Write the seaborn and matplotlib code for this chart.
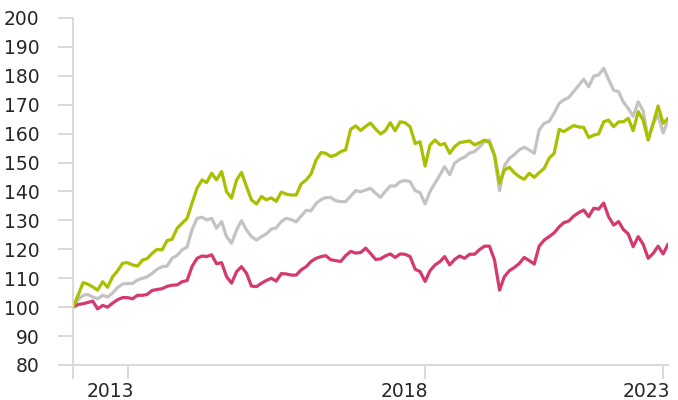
import matplotlib
matplotlib.use("Agg")
import matplotlib.pyplot as plt
import numpy as np
import pandas as pd
import seaborn as sns

# ---- data (monthly index levels, start = 100) ----
dates = pd.date_range("2012-12-01", periods=121, freq="MS")

green = [
    100, 104.1, 108.5, 108.0, 107.0, 105.9, 108.8, 106.9, 110.5, 112.6,
    115.2, 115.4, 114.6, 114.2, 116.3, 116.8, 118.6, 120.0, 119.8, 123.0,
    123.5, 127.3, 129.0, 130.7, 135.9, 141.1, 144.0, 143.1, 146.3, 144.0,
    146.9, 140.0, 137.7, 144.0, 146.6, 141.7, 137.1, 135.7, 138.3, 137.1,
    137.8, 136.6, 139.8, 139.1, 138.8, 138.8, 142.6, 144.0, 146.1, 150.9,
    153.5, 153.2, 152.1, 152.6, 153.8, 154.4, 161.5, 162.7, 161.1, 162.5,
    163.7, 161.6, 159.9, 161.0, 163.8, 161.0, 164.1, 163.8, 162.4, 156.6,
    157.2, 148.8, 156.1, 157.8, 156.1, 156.6, 153.2, 155.5, 156.9, 157.2,
    157.5, 156.1, 156.9, 157.8, 156.9, 152.6, 142.8, 147.4, 148.4, 146.5,
    145.1, 144.2, 146.3, 144.9, 146.5, 148.0, 151.5, 153.2, 161.5, 160.7,
    161.8, 162.8, 162.3, 162.2, 158.7, 159.5, 159.9, 164.1, 164.7, 162.4,
    164.1, 164.1, 165.3, 161.0, 167.6, 164.7, 157.8, 163.6, 169.6, 163.6,
    165.3,
]

gray = [
    100, 102.6, 104.1, 104.4, 103.5, 102.9, 104.1, 103.5, 104.9, 106.8,
    108.0, 108.2, 108.2, 109.4, 110.0, 110.5, 111.7, 113.1, 114.0, 114.2,
    116.9, 117.9, 119.8, 120.8, 126.7, 130.7, 131.1, 130.2, 130.7, 127.3,
    129.6, 124.4, 122.1, 126.7, 129.9, 126.7, 124.4, 123.2, 124.4, 125.3,
    127.0, 127.4, 129.6, 130.7, 130.3, 129.5, 131.5, 133.5, 133.3, 135.9,
    137.2, 137.9, 137.9, 136.8, 136.5, 136.5, 138.4, 140.3, 139.9, 140.5,
    141.1, 139.4, 138.0, 140.0, 141.9, 141.9, 143.4, 143.8, 143.4, 140.3,
    139.6, 135.7, 140.0, 142.9, 145.8, 148.6, 145.8, 149.8, 151.1, 151.9,
    153.3, 153.8, 155.4, 157.2, 157.8, 152.1, 140.3, 148.8, 151.5, 152.7,
    154.4, 155.3, 154.4, 153.2, 161.3, 163.6, 164.2, 167.1, 170.5, 171.7,
    172.5, 174.6, 176.7, 178.8, 176.2, 179.9, 180.3, 182.6, 178.8, 175.0,
    174.5, 171.0, 168.7, 166.0, 171.0, 167.9, 158.0, 163.6, 166.4, 160.2,
    164.7,
]

magenta = [
    100, 100.9, 101.2, 101.6, 102.1, 99.4, 100.6, 100.0, 101.4, 102.6,
    103.3, 103.3, 102.9, 104.1, 104.1, 104.4, 105.8, 106.1, 106.4, 107.2,
    107.6, 107.7, 108.8, 109.2, 114.0, 116.9, 117.7, 117.5, 118.1, 115.0,
    115.4, 110.6, 108.3, 112.3, 114.0, 111.7, 107.3, 107.1, 108.3, 109.2,
    110.0, 109.0, 111.6, 111.5, 111.1, 111.1, 112.9, 114.0, 115.8, 116.9,
    117.5, 117.8, 116.4, 116.1, 115.8, 117.8, 119.3, 118.7, 118.9, 120.4,
    118.6, 116.5, 116.7, 117.7, 118.4, 117.2, 118.4, 118.3, 117.5, 113.1,
    112.3, 108.9, 112.6, 114.6, 115.8, 117.5, 114.6, 116.5, 117.7, 116.9,
    118.3, 118.3, 119.9, 121.1, 121.1, 116.3, 105.9, 110.5, 112.6, 113.7,
    115.1, 117.2, 116.1, 114.9, 121.1, 123.2, 124.4, 125.7, 127.8, 129.2,
    129.8, 131.5, 132.7, 133.6, 131.3, 134.2, 133.9, 136.0, 131.3, 128.4,
    129.6, 126.9, 125.3, 120.9, 124.4, 121.8, 116.9, 118.6, 121.1, 118.4,
    121.8,
]

series_names = ["Index B", "Index C", "Index A"]
series_values = [gray, magenta, green]
series_colors = ["#c3c3c3", "#d4396f", "#a9bf00"]

y_ticks = [80, 90, 100, 110, 120, 130, 140, 150, 160, 170, 180, 190, 200]
x_tick_dates = ["2012-12-01", "2013-11-01", "2018-11-01", "2022-11-01"]
x_label_dates = ["2013-07-20", "2018-06-27", "2022-07-22"]
x_labels = ["2013", "2018", "2023"]

# ---- build long table ----
frames = []
for name, vals in zip(series_names, series_values):
    frames.append(pd.DataFrame({"date": dates, "value": vals, "series": name}))
df = pd.concat(frames, ignore_index=True)

sns.set_theme(style="white")
plt.rcParams["font.family"] = ["Liberation Sans Narrow", "DejaVu Sans"]

fig = plt.figure(figsize=(6.78, 4.0), dpi=100)
ax = fig.add_axes([0.1077, 0.0875, 0.8776, 0.8675])

sns.lineplot(
    data=df, x="date", y="value", hue="series",
    hue_order=series_names, palette=dict(zip(series_names, series_colors)),
    linewidth=2.3, legend=False, ax=ax,
)

grid_col = "#d9d9d9"
text_col = "#262626"

ax.set_xlim(dates[0], dates[-1])
ax.set_ylim(80, 200)
ax.set_yticks(y_ticks)
ax.set_yticklabels([str(t) for t in y_ticks])
ax.tick_params(axis="y", which="major", direction="out", length=11, width=1.4,
               color=grid_col, pad=13, labelsize=13.5, labelcolor=text_col, left=True)

ax.set_xticks(pd.to_datetime(x_tick_dates))
ax.set_xticklabels([])
ax.set_xticks(pd.to_datetime(x_label_dates), minor=True)
ax.set_xticklabels(x_labels, minor=True)
ax.tick_params(axis="x", which="major", direction="out", length=10, width=1.4,
               color=grid_col, bottom=True)
ax.tick_params(axis="x", which="minor", length=0, pad=12, labelsize=13.5,
               labelcolor=text_col, bottom=True)

for side in ["top", "right"]:
    ax.spines[side].set_visible(False)
for side in ["left", "bottom"]:
    ax.spines[side].set_color(grid_col)
    ax.spines[side].set_linewidth(1.4)

ax.set_xlabel("")
ax.set_ylabel("")
ax.grid(False)

fig.savefig("out.png", dpi=100)
